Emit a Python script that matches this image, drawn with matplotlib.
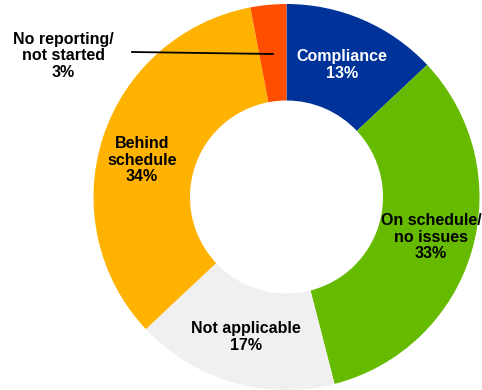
import matplotlib.pyplot as plt

categories = ["Compliance", "On schedule/\nno issues", "Not applicable",
              "Behind\nschedule", "No reporting/\nnot started"]
shares = [13, 33, 17, 34, 3]
colors = ["#003399", "#66BB00", "#F0F0F0", "#FFB300", "#FF4E00"]
text_colors = ["white", "black", "black", "black", "black"]

plt.rcParams["font.family"] = ["Liberation Sans", "DejaVu Sans"]

fig = plt.figure(figsize=(4.82, 3.90), dpi=100)
ax = fig.add_axes([0, 0, 1, 1])

# donut: radius 1, centred at (0, 0)
wedges, _ = ax.pie(shares, colors=colors, startangle=90, counterclock=False,
                   radius=1.0, wedgeprops=dict(width=0.5, linewidth=0))

# label positions in data units (radius 1 = 193 px)
def px(x, y):
    return (x - 286.5) / 193, (197 - y) / 193

label_pos = [px(342, 65), px(431, 237), px(246, 337), px(142, 160), px(63, 56)]
for name, val, (lx, ly), tc in zip(categories, shares, label_pos, text_colors):
    ax.text(lx, ly, f"{name}\n{val}%", ha="center", va="center",
            fontsize=11.5, fontweight="bold", color=tc, linespacing=1.15)

# leader line for the small slice
x0, y0 = px(132, 52)
x1, y1 = px(273, 54)
ax.plot([x0, x1], [y0, y1], color="black", linewidth=1.3)

ax.set_xlim(-286.5 / 193, (482 - 286.5) / 193)
ax.set_ylim(-193 / 193, 197 / 193)
ax.set_aspect("equal")
ax.axis("off")

fig.savefig("out.png", dpi=100)
